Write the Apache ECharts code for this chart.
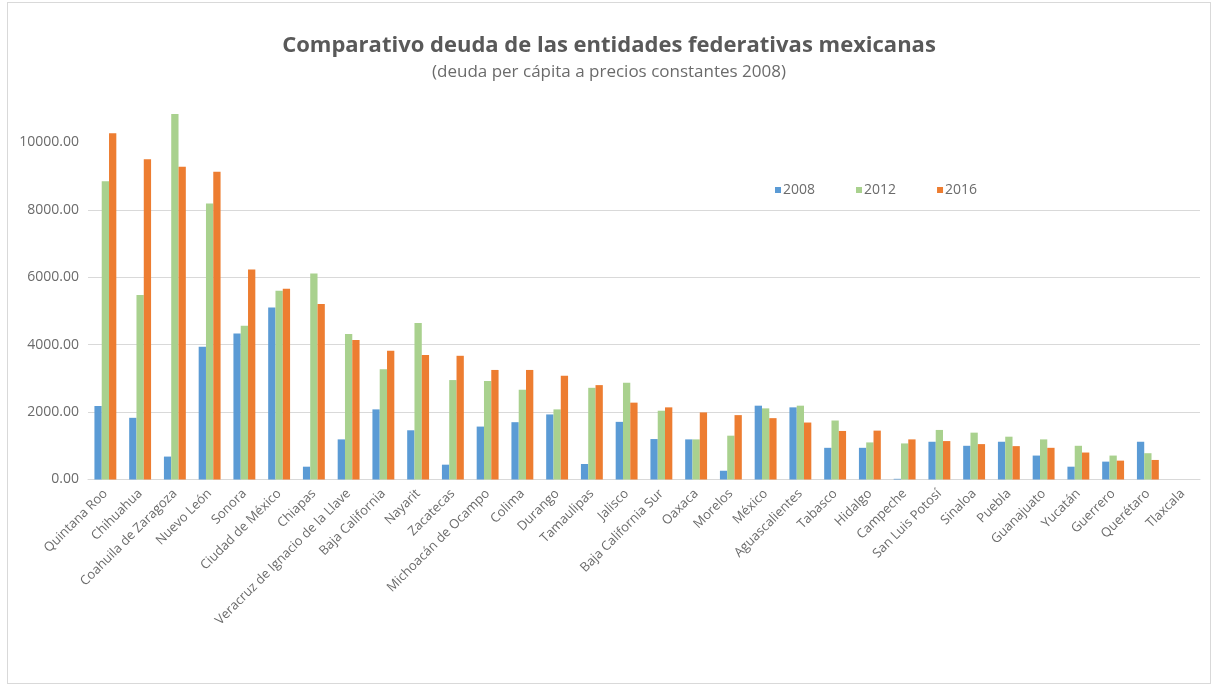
<!DOCTYPE html>
<html><head><meta charset="utf-8">
<script src="https://cdn.jsdelivr.net/npm/echarts@6/dist/echarts.min.js"></script>
<style>
html,body{margin:0;padding:0;background:#fff;}
#frame{position:absolute;left:7px;top:2px;width:1204px;height:682px;border:1px solid #d9d9d9;box-sizing:border-box;}
#chart{position:absolute;left:0;top:0;width:1218px;height:690px;}
</style></head>
<body><div id="frame"></div><div id="chart"></div>
<script>
const categories = ["Quintana Roo","Chihuahua","Coahuila de Zaragoza","Nuevo León","Sonora","Ciudad de México","Chiapas","Veracruz de Ignacio de la Llave","Baja California","Nayarit","Zacatecas","Michoacán de Ocampo","Colima","Durango","Tamaulipas","Jalisco","Baja California Sur","Oaxaca","Morelos","México","Aguascalientes","Tabasco","Hidalgo","Campeche","San Luis Potosí","Sinaloa","Puebla","Guanajuato","Yucatán","Guerrero","Querétaro","Tlaxcala"];
const seriesNames = ["2008","2012","2016"];
const v2008 = [2180,1830,680,3940,4330,5100,380,1190,2080,1460,440,1570,1700,1930,460,1710,1200,1190,260,2190,2140,940,940,20,1120,1000,1120,710,380,530,1120,0];
const v2012 = [8850,5470,10840,8190,4560,5600,6110,4320,3270,4640,2950,2920,2660,2080,2720,2870,2040,1190,1300,2110,2190,1750,1100,1070,1470,1390,1270,1190,1000,710,780,0];
const v2016 = [10270,9500,9280,9130,6230,5660,5210,4140,3820,3690,3670,3250,3250,3080,2800,2280,2140,1990,1910,1820,1690,1440,1450,1190,1140,1050,990,940,800,560,580,0];
const yTicks = [0,2000,4000,6000,8000,10000];
const colors = ["#5B9BD5","#A9D18E","#ED7D31"];
const font = "'Open Sans', sans-serif";
const txt = "#6b6b6b";

const chart = echarts.init(document.getElementById('chart'));
const data = [v2008, v2012, v2016];
chart.setOption({
  animation:false,
  title:{
    text:"Comparativo deuda de las entidades federativas mexicanas",
    subtext:"(deuda per cápita a precios constantes 2008)",
    left:'center', top:30, itemGap:7,
    textStyle:{fontFamily:font, fontSize:22, fontWeight:'bold', color:'#595959'},
    subtextStyle:{fontFamily:font, fontSize:17, color:txt}
  },
  legend:{
    data:seriesNames, left:770, top:178, itemWidth:6, itemHeight:6, itemGap:41,
    icon:'rect',
    textStyle:{fontFamily:font, fontSize:14, color:txt, padding:[0,0,0,-3]}
  },
  grid:{left:88, right:18, top:75, bottom:210.5, containLabel:false},
  xAxis:{
    type:'category', data:categories,
    axisLine:{lineStyle:{color:'#d9d9d9'}},
    axisTick:{show:false},
    axisLabel:{interval:0, rotate:45, margin:12, fontFamily:font, fontSize:13, color:txt}
  },
  yAxis:{
    type:'value', min:0, max:12000, interval:2000,
    axisLine:{show:false}, axisTick:{show:false},
    axisLabel:{fontFamily:font, fontSize:14, color:txt, margin:9,
      formatter:function(v){ return yTicks.indexOf(v)>=0 ? v.toFixed(2) : ''; }},
    splitLine:{lineStyle:{color:['#d9d9d9','#d9d9d9','#d9d9d9','#d9d9d9','#d9d9d9','rgba(0,0,0,0)','rgba(0,0,0,0)']}}
  },
  series: seriesNames.map((n,i)=>({
    name:n, type:'bar', data:data[i], barGap:'0%', barCategoryGap:'37%',
    itemStyle:{color:colors[i]}
  }))
});
</script></body></html>
